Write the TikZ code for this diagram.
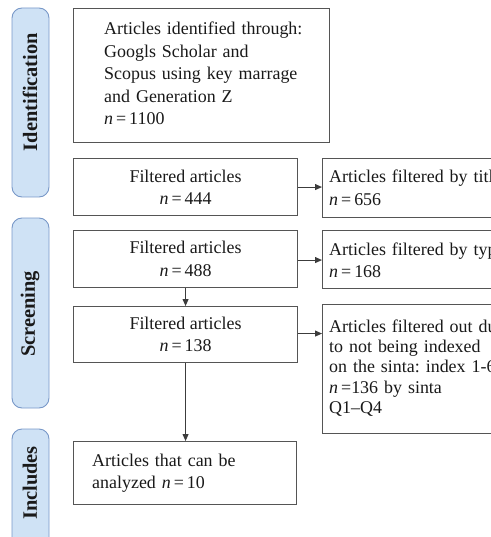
\documentclass[tikz,border=0pt]{standalone}
\usepackage{fontspec}
\setmainfont{Liberation Serif}
\usetikzlibrary{arrows.meta}
\frenchspacing
\definecolor{barfill}{RGB}{207,226,245}
\definecolor{barline}{RGB}{120,152,200}
\definecolor{boxline}{RGB}{85,85,85}
\definecolor{ink}{RGB}{25,25,25}
\tikzset{
  box/.style={draw=boxline, line width=1.1bp, fill=white, inner sep=0pt, text=ink,
    font=\fontsize{18}{22.5}\selectfont},
  bar/.style={draw=barline, line width=0.9bp, fill=barfill, rounded corners=10bp},
  barlabel/.style={rotate=90, text=ink, inner sep=0pt, font=\bfseries\fontsize{20.5}{24}\selectfont},
  txt/.style={anchor=base west, inner sep=0pt, text=ink, align=left, text width=260bp,
    font=\fontsize{18}{22.5}\selectfont},
  conn/.style={draw=ink!85, line width=1bp, -{Triangle[length=7bp,width=6bp]}}
}
\newcommand{\nn}{\textit{n}\,=\,}
\begin{document}
\begin{tikzpicture}[x=1bp,y=-1bp]
\useasboundingbox (0,0) rectangle (491,537);
\clip (0,0) rectangle (491,537);
% side bars
\draw[bar] (12,8) rectangle (49,197);
\draw[bar] (12,218) rectangle (49,408);
\draw[bar] (12,429) rectangle (49,560);
\node[barlabel] (lid) at (30,92) {Identification};
\node[barlabel] (lsc) at (30,314) {Screening};
\node[barlabel] (lin) at (30,483) {Includes};
% main boxes
\node[box, anchor=north west, minimum width=256bp, minimum height=134bp] (b1) at (73,8) {};
\node[txt] (t1) at (104,35) {Articles identified through:\\Googls Scholar and\\Scopus using key marrage\\and Generation Z\\\nn1100};
\node[box, anchor=north west, minimum width=224bp, minimum height=57bp, align=center] (b2) at (73,158) {Filtered articles\\\nn444};
\node[box, anchor=north west, minimum width=224bp, minimum height=57bp, align=center] (b3) at (73,230) {Filtered articles\\\nn488};
\node[box, anchor=north west, minimum width=224bp, minimum height=56bp, align=center] (b4) at (73,306) {Filtered articles\\\nn138};
\node[box, anchor=north west, minimum width=223bp, minimum height=63bp] (b5) at (73,441) {};
\node[txt] (t5) at (92,466) {Articles that can be\\analyzed \nn10};
% right boxes
\node[box, anchor=north west, minimum width=250bp, minimum height=59bp] (r1) at (322,158) {};
\node[txt] (tr1) at (329,183) {Articles filtered by title\\\nn656};
\node[box, anchor=north west, minimum width=250bp, minimum height=58bp] (r2) at (322,230) {};
\node[txt] (tr2) at (329,255) {Articles filtered by type\\\nn168};
\node[box, anchor=north west, minimum width=250bp, minimum height=129bp] (r3) at (322,304) {};
\node[txt, font=\fontsize{18}{20.5}\selectfont] (tr3) at (329,332) {Articles filtered out due\\to not being indexed\\on the sinta: index 1-6\\\textit{n}\,=136 by sinta\\Q1--Q4};
% connectors
\draw[conn] (b2.east) -- (b2.east -| r1.west);
\draw[conn] ([yshift=-1bp]b3.east) -- ([yshift=-1bp]b3.east -| r2.west);
\draw[conn] ([yshift=1bp]b4.east) -- ([yshift=1bp]b4.east -| r3.west);
\draw[conn] (b3.south) -- (b4.north);
\draw[conn] (b4.south) -- (b4.south |- b5.north);
\end{tikzpicture}
\end{document}
